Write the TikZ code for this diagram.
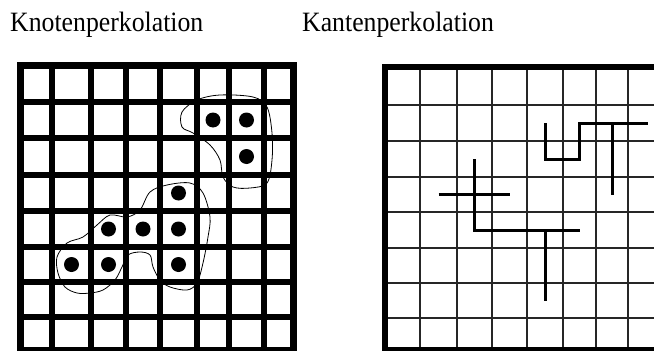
\documentclass[tikz,border=0pt]{standalone}
\usepackage{fontspec}
\setmainfont{Liberation Serif}
\newfontfamily\titlefont[FakeStretch=0.92]{Liberation Serif}
\usetikzlibrary{positioning}
\tikzset{
  title/.style={anchor=base west,inner sep=0pt,font=\titlefont\fontsize{28}{32}\selectfont},
  sitegrid/.style={line width=5.5pt},
  siteframe/.style={line width=7pt},
  bondgrid/.style={line width=1.6pt,black!85},
  bondframe/.style={line width=6pt},
  site/.style={circle,fill=black,minimum size=15pt,inner sep=0pt},
  hull/.style={line width=0.8pt},
  bond/.style={line width=3pt}
}

\begin{document}
\begin{tikzpicture}[x=1pt,y=-1pt]
  \useasboundingbox (0,0) rectangle (654,351);
  \clip (0,0) rectangle (654,351);
  \node[title] (sitetitle) at (10,31.5) {Knotenperkolation};
  \node[title] (bondtitle) at (302,31.5) {Kantenperkolation};
  % site lattice
  \foreach \x in {20,52,91,126,160,197,229,264,293}
    \draw[sitegrid] (\x,65) -- (\x,350);
  \foreach \y in {65,102,138,175,211,247,282,317,350}
    \draw[sitegrid] (20,\y) -- (293,\y);
  \draw[siteframe] (20,65) rectangle (293,350);
  \foreach \xa/\xb [count=\i from 0] in {20/52,52/91,91/126,126/160,160/197,197/229,229/264,264/293}
    \foreach \ya/\yb [count=\j from 0] in {65/102,102/138,138/175,175/211,211/247,247/282,282/317,317/350}
      \coordinate (s\i-\j) at ({(\xa+\xb)/2},{(\ya+\yb)/2});
  \foreach \i/\j in {5/1,6/1,6/2,4/3,2/4,3/4,4/4,1/5,2/5,4/5}
    \node[site] (dot\i-\j) at (s\i-\j) {};
  % clusters
  \draw[hull] plot[smooth cycle,tension=0.55] coordinates {
    (182,112) (197,100) (220,95) (253,97) (267,107) (272,133) (272,160)
    (267,183) (250,188) (233,187) (223,177) (220,160) (210,145) (193,133) (182,127)};
  \draw[hull] plot[smooth cycle,tension=0.55] coordinates {
    (57,257) (67,243) (83,237) (97,225) (110,215) (127,217) (140,210) (150,192)
    (167,185) (190,183) (203,193) (210,217) (208,237) (203,263) (197,283)
    (187,290) (170,287) (160,280) (153,267) (150,255) (140,252) (128,255)
    (122,267) (115,280) (103,290) (90,293) (77,293) (65,287) (58,273)};
  % bond lattice
  \foreach \x in {385,420,457,492,527,563,596,628,668}
    \draw[bondgrid] (\x,67) -- (\x,350);
  \foreach \y in {67,105,141,177,212,248,283,318,350}
    \draw[bondgrid] (385,\y) -- (668,\y);
  \draw[bondframe] (385,67) rectangle (668,350);
  \foreach \xa/\xb [count=\i from 0] in {385/420,420/457,457/492,492/527,527/563,563/596,596/628,628/668}
    \foreach \ya/\yb [count=\j from 0] in {67/105,105/141,141/177,177/212,212/248,248/283,283/318,318/350}
      \coordinate (b\i-\j) at ({(\xa+\xb)/2},{(\ya+\yb)/2});
  \draw[bond] (b1-3) -- (b3-3);
  \draw[bond] (b2-2) -- (b2-4) -- (b5-4);
  \draw[bond] (b4-4) -- (b4-6);
  \draw[bond] (b4-1) -- (b4-2) -- (b5-2) -- (b5-1) -- (b7-1);
  \draw[bond] (b6-1) -- (b6-3);
\end{tikzpicture}
\end{document}
